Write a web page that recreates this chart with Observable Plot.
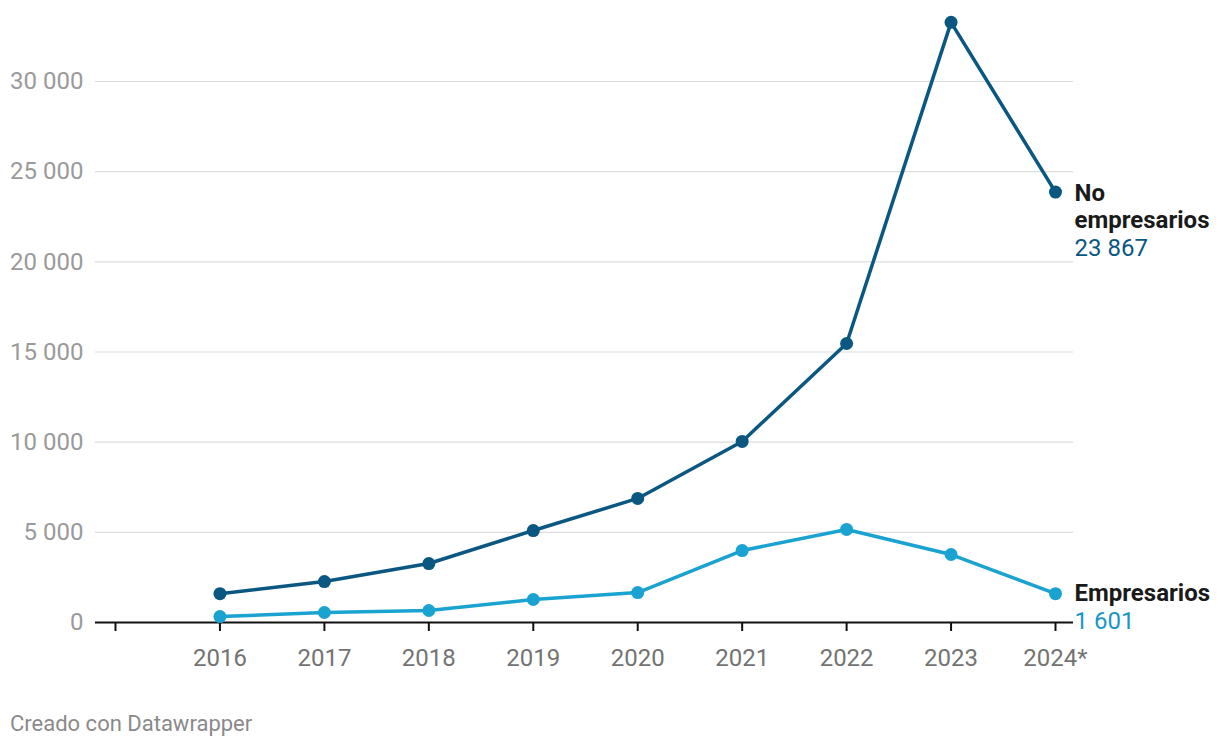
<!DOCTYPE html>
<html>
<head>
<meta charset="utf-8">
<script src="https://cdn.jsdelivr.net/npm/d3@7"></script>
<script src="https://cdn.jsdelivr.net/npm/@observablehq/plot@0.6"></script>
<style>
  body { margin: 0; background: #fff; font-family: Roboto, sans-serif; }
  #chart { position: relative; width: 1220px; }
  .caption { font-family: Roboto, sans-serif; font-size: 22px; line-height: 26px; color: #8a8a8a; margin: 21px 0 0 10px; }
</style>
</head>
<body>
<div id="chart"></div>
<div class="caption">Creado con Datawrapper</div>
<script>
const years = [2016, 2017, 2018, 2019, 2020, 2021, 2022, 2023, 2024];
const noEmpresarios = [1600, 2270, 3270, 5100, 6880, 10040, 15470, 33280, 23867];
const empresarios = [330, 555, 665, 1275, 1660, 3990, 5160, 3770, 1601];
const seriesNames = ["No empresarios", "Empresarios"];
const yTicks = [0, 5000, 10000, 15000, 20000, 25000, 30000];
const xTicks = [2015, 2016, 2017, 2018, 2019, 2020, 2021, 2022, 2023, 2024];

const colorDark = "#0a5782";
const colorLight = "#1aa3d1";

const fmt = d3.formatLocale({decimal: ",", thousands: " ", grouping: [3], currency: ["", ""]}).format(",d");

const dataNo = years.map((y, i) => ({year: y, value: noEmpresarios[i]}));
const dataEm = years.map((y, i) => ({year: y, value: empresarios[i]}));
const lastNo = dataNo[dataNo.length - 1];
const lastEm = dataEm[dataEm.length - 1];

const plot = Plot.plot({
  width: 1220,
  height: 690,
  marginLeft: 95,
  marginRight: 147,
  marginTop: 10,
  marginBottom: 68,
  style: {fontFamily: "Roboto, sans-serif", fontSize: "24px", background: "#fff", overflow: "visible"},
  x: {domain: [2015, 2024], range: [115, 1055], axis: null},
  y: {domain: [0, 30000], range: [622, 81], axis: null},
  marks: [
    Plot.gridY(yTicks.filter(d => d > 0), {stroke: "#dcdcdc", strokeOpacity: 1, strokeWidth: 1.2}),
    Plot.axisY(yTicks, {label: null, tickSize: 0, tickPadding: 12, tickFormat: fmt, fill: "#9a9a9a", fontSize: 24}),
    Plot.axisX(xTicks, {label: null, anchor: "bottom", tickSize: 9, tickPadding: 17, stroke: "#111", strokeOpacity: 1, strokeWidth: 2, fill: "#737373", fontSize: 24, tickFormat: d => d === 2015 ? "" : d === 2024 ? "2024*" : String(d)}),
    Plot.ruleY([0], {stroke: "#111", strokeWidth: 2}),
    Plot.line(dataEm, {x: "year", y: "value", stroke: colorLight, strokeWidth: 3.5}),
    Plot.dot(dataEm, {x: "year", y: "value", fill: colorLight, r: 6.5}),
    Plot.line(dataNo, {x: "year", y: "value", stroke: colorDark, strokeWidth: 3.5}),
    Plot.dot(dataNo, {x: "year", y: "value", fill: colorDark, r: 6.5}),
    Plot.text([lastNo], {x: "year", y: "value", text: () => "No", dx: 19, dy: 1, textAnchor: "start", fontWeight: "bold", fill: "#1a1a1a", fontSize: 24}),
    Plot.text([lastNo], {x: "year", y: "value", text: () => "empresarios", dx: 19, dy: 28, textAnchor: "start", fontWeight: "bold", fill: "#1a1a1a", fontSize: 24}),
    Plot.text([lastNo], {x: "year", y: "value", text: d => fmt(d.value), dx: 19, dy: 56, textAnchor: "start", fill: colorDark, fontSize: 24}),
    Plot.text([lastEm], {x: "year", y: "value", text: () => seriesNames[1], dx: 19, dy: 0, textAnchor: "start", fontWeight: "bold", fill: "#1a1a1a", fontSize: 24}),
    Plot.text([lastEm], {x: "year", y: "value", text: d => fmt(d.value), dx: 19, dy: 28, textAnchor: "start", fill: "#1896c8", fontSize: 24})
  ]
});
document.getElementById("chart").appendChild(plot);
</script>
</body>
</html>
